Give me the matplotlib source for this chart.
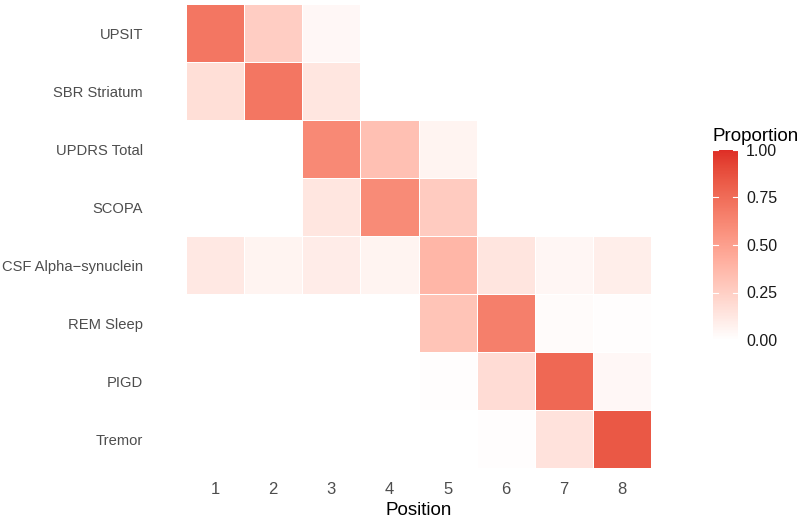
import matplotlib
matplotlib.use("Agg")
import matplotlib.pyplot as plt
import numpy as np
from matplotlib.colors import ListedColormap, to_rgb

plt.rcParams['font.family'] = ['Liberation Sans', 'DejaVu Sans']

# rows top to bottom
features = ["UPSIT", "SBR Striatum", "UPDRS Total", "SCOPA",
            "CSF Alpha\u2212synuclein", "REM Sleep", "PIGD", "Tremor"]
positions = [1, 2, 3, 4, 5, 6, 7, 8]

upsit = [0.70, 0.26, 0.04, 0, 0, 0, 0, 0]
sbr = [0.17, 0.70, 0.13, 0, 0, 0, 0, 0]
updrs = [0, 0, 0.61, 0.33, 0.06, 0, 0, 0]
scopa = [0, 0, 0.13, 0.60, 0.27, 0, 0, 0]
csf = [0.12, 0.06, 0.10, 0.06, 0.38, 0.14, 0.05, 0.09]
rem = [0, 0, 0, 0, 0.31, 0.66, 0.02, 0.01]
pigd = [0, 0, 0, 0, 0.01, 0.18, 0.77, 0.04]
tremor = [0, 0, 0, 0, 0, 0.01, 0.15, 0.84]

vals = np.array([upsit, sbr, updrs, scopa, csf, rem, pigd, tremor])

# white -> red gradient interpolated in Lab space (like ggplot's scale_fill_gradient)
M = np.array([[0.4124, 0.3576, 0.1805],
              [0.2126, 0.7152, 0.0722],
              [0.0193, 0.1192, 0.9505]])
WHITE = np.array([0.95047, 1.0, 1.08883])
d = 6 / 29


def rgb2lab(rgb):
    c = np.array(rgb)
    lin = np.where(c <= 0.04045, c / 12.92, ((c + 0.055) / 1.055) ** 2.4)
    xyz = M @ lin / WHITE
    f = np.where(xyz > d ** 3, np.cbrt(xyz), xyz / (3 * d * d) + 4 / 29)
    return np.array([116 * f[1] - 16, 500 * (f[0] - f[1]), 200 * (f[1] - f[2])])


def lab2rgb(lab):
    fy = (lab[:, 0] + 16) / 116
    fx = fy + lab[:, 1] / 500
    fz = fy - lab[:, 2] / 200
    f = np.stack([fx, fy, fz], axis=1)
    xyz = np.where(f > d, f ** 3, 3 * d * d * (f - 4 / 29)) * WHITE
    lin = xyz @ np.linalg.inv(M).T
    lin = np.clip(lin, 0, 1)
    c = np.where(lin <= 0.0031308, 12.92 * lin, 1.055 * lin ** (1 / 2.4) - 0.055)
    return np.clip(c, 0, 1)


lo = rgb2lab(to_rgb("#FFFFFF"))
hi = rgb2lab(to_rgb("#DE2D26"))
t = np.linspace(0, 1, 256)[:, None]
cmap = ListedColormap(lab2rgb(lo + t * (hi - lo)))

fig = plt.figure(figsize=(8, 5.2), dpi=100)
ax = fig.add_axes([0.2325, 0.1, 0.5813, 0.892])

x = np.arange(len(positions) + 1) + 0.5
y = np.arange(len(features) + 1) + 0.5
mesh = ax.pcolormesh(x, y, vals, cmap=cmap, vmin=0, vmax=1,
                     edgecolors="white", linewidth=0.6)
ax.set_xlim(0.5, 8.5)
ax.set_ylim(8.5, 0.5)
ax.set_xticks(positions)
ax.set_xticklabels([str(p) for p in positions])
ax.set_yticks(np.arange(1, len(features) + 1))
ax.set_yticklabels(features)
ax.tick_params(axis="y", length=0, labelsize=10.6, colors="#4D4D4D", pad=31)
ax.tick_params(axis="x", length=0, labelsize=12, colors="#4D4D4D", pad=10)
for s in ax.spines.values():
    s.set_visible(False)
ax.set_xlabel("Position", fontsize=13.5, labelpad=4, color="black")

cax = fig.add_axes([0.891, 0.346, 0.031, 0.366])
cb = fig.colorbar(mesh, cax=cax, ticks=[0, 0.25, 0.5, 0.75, 1.0])
cb.ax.set_yticklabels(["0.00", "0.25", "0.50", "0.75", "1.00"])
cb.outline.set_visible(False)
cb.ax.tick_params(length=0, labelsize=11.5, colors="#1A1A1A", pad=6)
for v in [0.25, 0.5, 0.75, 1.0]:
    cax.plot([0, 0.2], [v, v], color="white", lw=0.8, transform=cax.get_yaxis_transform())
    cax.plot([0.8, 1], [v, v], color="white", lw=0.8, transform=cax.get_yaxis_transform())
cax.set_title("Proportion", fontsize=13.5, loc="left", pad=6)

fig.savefig("out.png", dpi=100)
